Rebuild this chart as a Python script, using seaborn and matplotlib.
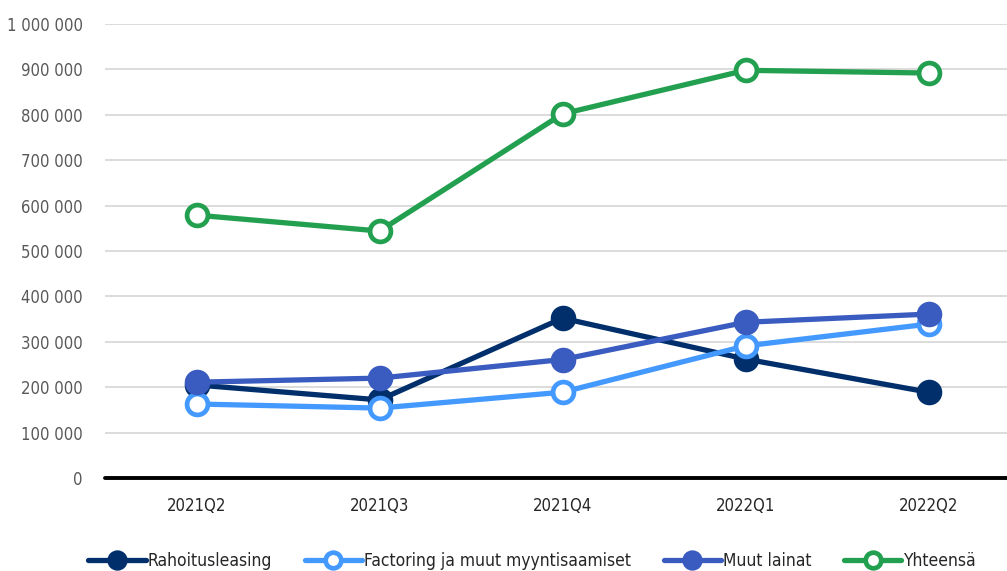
import matplotlib; matplotlib.use('Agg')
import pandas as pd
import numpy as np
import seaborn as sns
import matplotlib.pyplot as plt
from matplotlib.ticker import FuncFormatter

quarters = ['2021Q2', '2021Q3', '2021Q4', '2022Q1', '2022Q2']
rahoitusleasing = [205000, 172000, 352000, 262000, 189000]
factoring = [163000, 154000, 189000, 291000, 339000]
muut_lainat = [211000, 220000, 261000, 343000, 361000]
yhteensa = [579000, 544000, 802000, 898000, 892000]

series = [
    ('Rahoitusleasing', rahoitusleasing, '#002F6C', '#002F6C'),
    ('Factoring ja muut myyntisaamiset', factoring, '#4499FF', 'white'),
    ('Muut lainat', muut_lainat, '#3A5BBF', '#3A5BBF'),
    ('Yhteensä', yhteensa, '#22A04F', 'white'),
]

sns.set_theme(style='white')
plt.rcParams['font.family'] = ['DejaVu Sans']
plt.rcParams['font.stretch'] = 'condensed'

fig = plt.figure(figsize=(10.07, 5.71), dpi=100)
ax = fig.add_axes([105 / 1007, 1 - 478 / 571, (1020 - 105) / 1007, (478 - 24) / 571])

for name, vals, col, face in series:
    df = pd.DataFrame({'q': quarters, 'v': vals})
    sns.lineplot(data=df, x='q', y='v', ax=ax, color=col, linewidth=3.8,
                 marker='o', markersize=15, markerfacecolor=face,
                 markeredgecolor=col, markeredgewidth=3.4, label=name)

ax.set_xlim(-0.5, 4.5)
ax.set_ylim(0, 1000000)
ax.set_yticks(np.arange(0, 1000001, 100000))
ax.yaxis.set_major_formatter(FuncFormatter(lambda v, p: f'{int(v):,}'.replace(',', ' ')))
ax.grid(axis='y', color='#D9D9D9', linewidth=1.3)
ax.grid(axis='x', visible=False)
for s in ax.spines.values():
    s.set_visible(False)
ax.axhline(0, color='black', linewidth=2.8, zorder=5, clip_on=False)
ax.set_xlabel('')
ax.set_ylabel('')
ax.tick_params(axis='y', length=0, pad=16, labelsize=12, labelcolor='#595959')
ax.tick_params(axis='x', length=0, pad=14, labelsize=12, labelcolor='#262626')

handles, labels = ax.get_legend_handles_labels()
ax.get_legend().remove()
fig.legend(handles, labels, loc='lower center', bbox_to_anchor=(532 / 1007, -0.025),
           ncol=4, frameon=False, fontsize=12.5, handlelength=3.3, handletextpad=0.1,
           columnspacing=1.9, markerscale=0.75)

fig.savefig('out.png', dpi=100)
